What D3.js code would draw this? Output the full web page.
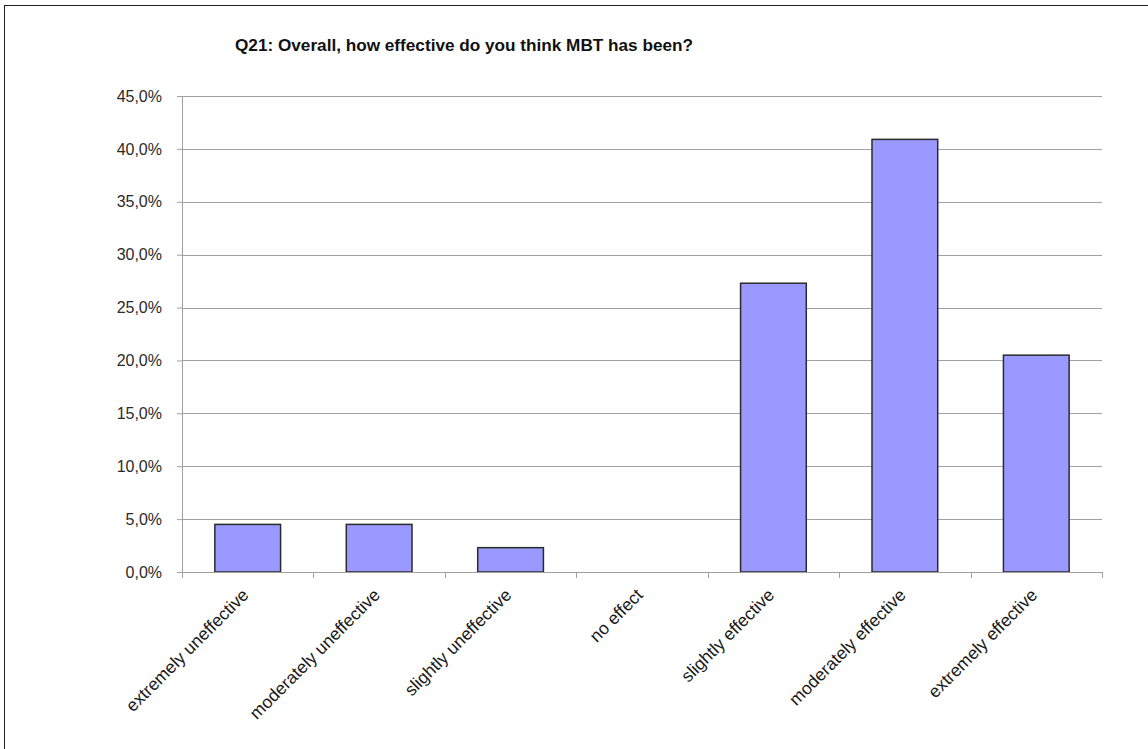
<!DOCTYPE html>
<html>
<head>
<meta charset="utf-8">
<script src="https://cdn.jsdelivr.net/npm/d3@7"></script>
<style>
  html, body { margin: 0; padding: 0; background: #fff; }
  svg { display: block; }
</style>
</head>
<body>
<svg id="chart" width="1148" height="749"></svg>
<script>
// Survey answers to Q21 (share of respondents)
const categories = [
  "extremely uneffective",
  "moderately uneffective",
  "slightly uneffective",
  "no effect",
  "slightly effective",
  "moderately effective",
  "extremely effective"
];
const values = [0.045, 0.045, 0.023, 0.0, 0.273, 0.409, 0.205];
const yTicks = [0, 0.05, 0.10, 0.15, 0.20, 0.25, 0.30, 0.35, 0.40, 0.45];
const titleText = "Q21: Overall, how effective do you think MBT has been?";

const svg = d3.select("#chart");
const margin = { left: 182, right: 46, top: 96, bottom: 177 };
const W = 1148, H = 749;
const plotW = W - margin.left - margin.right;
const plotH = H - margin.top - margin.bottom;

// outer frame
svg.append("rect")
  .attr("x", 4.5).attr("y", 5.5)
  .attr("width", 1160).attr("height", 760)
  .attr("fill", "none").attr("stroke", "#222").attr("stroke-width", 1);

// title (condensed bold)
svg.append("text")
  .attr("x", 235).attr("y", 51)
  .attr("textLength", 458).attr("lengthAdjust", "spacingAndGlyphs")
  .attr("font-family", "'Liberation Sans', Arial, sans-serif")
  .attr("font-weight", "bold").attr("font-size", 16.5)
  .attr("fill", "#111")
  .text(titleText);

const g = svg.append("g").attr("transform", `translate(${margin.left},${margin.top})`);

const x = d3.scaleBand().domain(categories).range([0, plotW]).paddingInner(0.5).paddingOuter(0.25);
const y = d3.scaleLinear().domain([0, 0.45]).range([plotH, 0]);
const fmt = v => d3.format(".1f")(v * 100).replace(".", ",") + "%";

// gridlines
g.append("g").selectAll("line").data(yTicks.filter(t => t > 0)).join("line")
  .attr("x1", 0).attr("x2", plotW)
  .attr("y1", d => Math.round(y(d)) + 0.5).attr("y2", d => Math.round(y(d)) + 0.5)
  .attr("stroke", "#a0a0a0").attr("stroke-width", 1);

// y axis
const yAxis = g.append("g")
  .call(d3.axisLeft(y).tickValues(yTicks).tickFormat(fmt).tickSize(5).tickPadding(8));
yAxis.select(".domain").attr("stroke", "#a0a0a0");
yAxis.selectAll(".tick line").attr("stroke", "#a0a0a0");
yAxis.selectAll(".tick text")
  .attr("font-family", "'Liberation Sans', Arial, sans-serif")
  .attr("font-size", 16).attr("fill", "#2a2a2a").attr("dx", -7);

// bars
g.append("g").selectAll("rect").data(values).join("rect")
  .attr("x", (d, i) => x(categories[i]))
  .attr("y", d => y(d))
  .attr("width", x.bandwidth())
  .attr("height", d => y(0) - y(d))
  .attr("fill", "#9999ff")
  .attr("stroke", d => d > 0 ? "#2b2b2b" : "none")
  .attr("stroke-width", 1.5);

// x axis: baseline plus ticks at category boundaries
const step = x.step();
const bounds = d3.range(categories.length + 1).map(i => i * step);
g.append("line")
  .attr("x1", 0).attr("x2", plotW)
  .attr("y1", plotH + 0.5).attr("y2", plotH + 0.5)
  .attr("stroke", "#a0a0a0");
g.append("g").selectAll("line").data(bounds).join("line")
  .attr("x1", d => Math.round(d) + 0.5).attr("x2", d => Math.round(d) + 0.5)
  .attr("y1", plotH).attr("y2", plotH + 6)
  .attr("stroke", "#a0a0a0");

// rotated category labels
g.append("g").selectAll("text").data(categories).join("text")
  .attr("transform", d => `translate(${x(d) + x.bandwidth() / 2 + 2},${plotH + 24}) rotate(-45)`)
  .attr("text-anchor", "end")
  .attr("font-family", "'Liberation Sans', Arial, sans-serif")
  .attr("font-size", 17.5).attr("fill", "#1a1a1a")
  .text(d => d);
</script>
</body>
</html>
